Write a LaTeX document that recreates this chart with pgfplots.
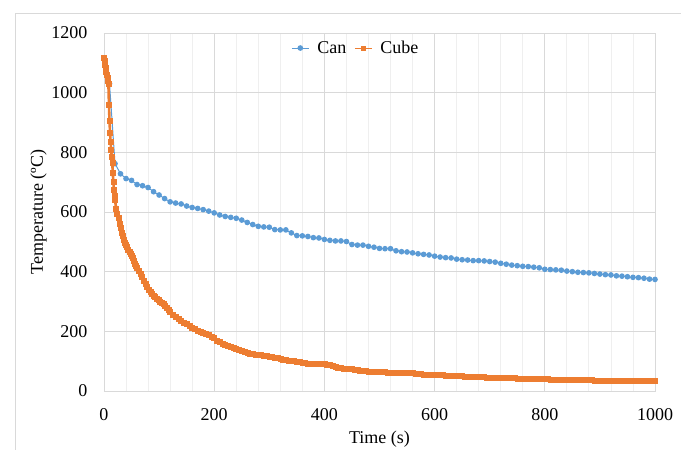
\documentclass[border=0pt]{standalone}
\usepackage{pgfplots}
\pgfplotsset{compat=1.18}
\usepackage{fontspec}
\setmainfont{Liberation Serif}
\definecolor{canblue}{HTML}{5B9BD5}
\definecolor{cubeorange}{HTML}{ED7D31}
\definecolor{gridmaj}{HTML}{D9D9D9}
\definecolor{gridmin}{HTML}{EFEFEF}
\begin{document}
\begin{tikzpicture}
\useasboundingbox (0,0) rectangle (681bp,450bp);
\draw[gridmaj, line width=0.8bp] (15bp,0) -- (15bp,437bp) -- (681bp,437bp);
\begin{axis}[
  at={(104bp,59bp)}, anchor=south west,
  scale only axis, width=551bp, height=358bp,
  xmin=0, xmax=1000, ymin=0, ymax=1200,
  xtick={0,200,...,1000}, ytick={0,200,...,1200},
  minor x tick num=4,
  grid=both,
  major grid style={gridmaj, line width=0.8bp},
  minor grid style={gridmin, line width=0.8bp},
  minor y tick num=0,
  axis line style={gridmaj, line width=0.8bp},
  tick style={draw=none},
  font=\fontsize{18bp}{21bp}\selectfont,
  /pgf/number format/assume math mode=true,
  /pgf/number format/1000 sep={},
  yticklabel style={xshift=-13bp},
  xticklabel style={yshift=-14bp},
  xlabel={Time (s)}, ylabel={Temperature (ºC)},
  xlabel style={yshift=-4bp},
  ylabel style={yshift=-2bp},
  legend style={draw=none, fill=none, at={(0.457,0.958)}, anchor=center,
    legend columns=2, column sep=6bp, font=\fontsize{18bp}{21bp}\selectfont},
  legend cell align=left,
]
\addplot[canblue, line width=1bp, mark=*, mark size=2.3bp] coordinates {
(10,1030)(20,762)(30,728)(40,712)(50,706)(60,692)(70,688)(80,682)(90,668)(100,657)
(110,645)(120,634)(130,630)(140,627)(150,620)(160,615)(170,612)(180,608)(190,603)(200,597)
(210,590)(220,585)(230,582)(240,579)(250,573)(260,565)(270,558)(280,552)(290,550)(300,549)
(310,541)(320,540)(330,540)(340,530)(350,521)(360,520)(370,518)(380,514)(390,513)(400,508)
(410,505)(420,503)(430,503)(440,501)(450,491)(460,489)(470,489)(480,485)(490,482)(500,478)
(510,477)(520,477)(530,470)(540,467)(550,466)(560,463)(570,460)(580,458)(590,456)(600,452)
(610,449)(620,447)(630,446)(640,442)(650,440)(660,439)(670,437)(680,437)(690,436)(700,434)
(710,432)(720,428)(730,425)(740,422)(750,420)(760,418)(770,417)(780,415)(790,413)(800,408)
(810,407)(820,406)(830,405)(840,402)(850,400)(860,398)(870,397)(880,396)(890,394)(900,392)
(910,390)(920,389)(930,386)(940,385)(950,383)(960,381)(970,380)(980,378)(990,375)(1000,374)
};
\addlegendentry{Can}
\addplot[cubeorange, line width=2.6bp, mark=square*, mark size=2.5bp,
  mark options={line width=0.5bp},
  legend image post style={line width=1bp, mark size=2bp}] coordinates {
(0,1118)(1,1106)(2,1094)(3,1082)(4,1070)(5,1060)(6,1050)(7,1040)(8,1030)(9,960)
(10,905)(11,865)(12,835)(13,808)(14,785)(15,765)(16,730)(17,700)(18,675)(19,655)
(20,640)(22,612)(24,595)(26,580)(28,562)(30,548)(32,532)(34,520)(36,508)(38,498)
(40,490)(42,482)(44,473)(46,466)(48,460)(50,453)(52,447)(54,438)(56,428)(58,420)
(60,413)(63,402)(66,392)(69,382)(72,370)(75,360)(78,350)(81,341)(84,333)(87,326)
(90,320)(93,315)(96,310)(99,305)(102,300)(105,296)(108,291)(111,286)(114,280)(117,273)
(120,266)(125,257)(130,249)(135,242)(140,236)(145,230)(150,224)(155,218)(160,213)(165,208)
(170,203)(175,199)(180,195)(185,191)(190,187)(195,183)(200,177)(205,170)(210,164)(215,159)
(220,155)(225,151)(230,148)(235,145)(240,141)(245,137)(250,134)(255,131)(260,128)(265,126)
(270,124)(275,123)(280,121)(285,120)(290,119)(295,118)(300,116)(305,114)(310,112)(315,110)
(320,108)(325,106)(330,104)(335,102)(340,101)(345,100)(350,98)(355,97)(360,96)(365,95)
(370,93)(375,92)(380,91)(385,91)(390,91)(395,91)(400,91)(405,89)(410,87)(415,84)
(420,81)(425,79)(430,77)(435,76)(440,75)(445,74)(450,73)(455,72)(460,71)(465,69)
(470,68)(475,67)(480,66)(485,65)(490,64)(495,64)(500,64)(505,63)(510,63)(515,62)
(520,62)(525,61)(530,61)(535,61)(540,61)(545,61)(550,61)(555,60)(560,60)(565,59)
(570,58)(575,57)(580,56)(585,55)(590,55)(595,54)(600,54)(605,54)(610,53)(615,53)
(620,52)(625,52)(630,51)(635,51)(640,51)(645,50)(650,50)(655,49)(660,48)(665,48)
(670,47)(675,47)(680,47)(685,47)(690,47)(695,46)(700,46)(705,46)(710,46)(715,46)
(720,45)(725,45)(730,44)(735,44)(740,43)(745,43)(750,42)(755,42)(760,41)(765,41)
(770,41)(775,41)(780,41)(785,41)(790,40)(795,40)(800,40)(805,40)(810,39)(815,39)
(820,39)(825,39)(830,38)(835,38)(840,38)(845,38)(850,37)(855,37)(860,37)(865,37)
(870,37)(875,37)(880,37)(885,37)(890,36)(895,36)(900,36)(905,36)(910,36)(915,36)
(920,35)(925,35)(930,35)(935,35)(940,35)(945,34)(950,34)(955,34)(960,34)(965,34)
(970,34)(975,33)(980,33)(985,33)(990,33)(995,33)(1000,33)
};
\addlegendentry{Cube}
\end{axis}
\end{tikzpicture}
\end{document}
